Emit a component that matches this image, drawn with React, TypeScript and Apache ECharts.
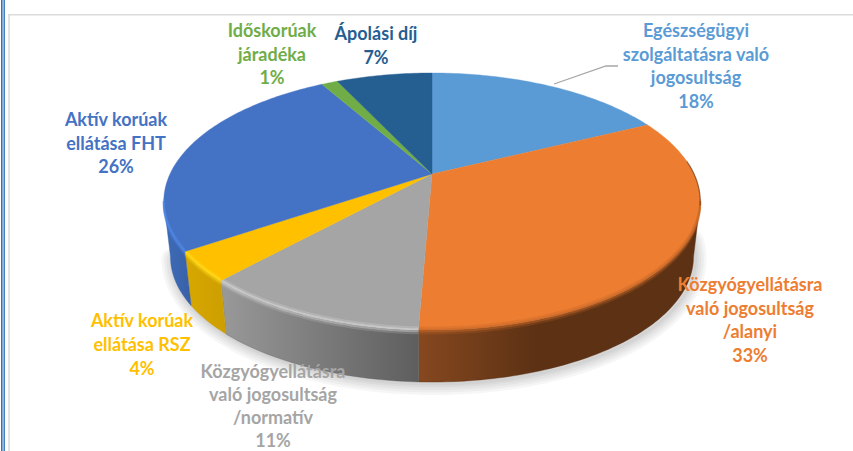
import React, { useEffect, useRef } from "react";
import * as echarts from "echarts";

// ---- data ----
const names = [
  "Egészségügyi\nszolgáltatásra való\njogosultság",
  "Közgyógyellátásra\nvaló jogosultság\n/alanyi",
  "Közgyógyellátásra\nvaló jogosultság\n/normatív",
  "Aktív korúak\nellátása RSZ",
  "Aktív korúak\nellátása FHT",
  "Időskorúak\njáradéka",
  "Ápolási díj",
];
const values = [17.8, 32.85, 11.25, 3.7, 26.1, 1.2, 7.1];

// ---- styling ----
const colors = ["#5B9BD5", "#ED7D31", "#A5A5A5", "#FFC000", "#4472C4", "#70AD47", "#255E91"];
const wallStops: string[][] = [
  ["#3f6f9c", "#3f6f9c"],
  ["#86481f", "#5c3114"],
  ["#999999", "#5e5e5e"],
  ["#d8a800", "#cc9e00"],
  ["#3f6cb8", "#3860a8"],
  ["#4f7a32", "#4f7a32"],
  ["#1b4468", "#1b4468"],
];
const rimColors = ["#7fb4e2", "#c96a2a", "#cfcfcf", "#ffd91a", "#4f86e2", "#8cc45f", "#3a78ad"];
const labelCentres: number[][] = [
  [696, 65.5],
  [750, 319.5],
  [273, 405],
  [142, 344],
  [116, 142.5],
  [272, 53.5],
  [376, 45],
];
const labelLineHeights = [23.7, 23.7, 23, 23.7, 23.7, 23.7, 23.7];

// ---- projection of the tilted pie ----
const CX = 432;
const CY = 174;
const BX = 262; // horizontal radius before perspective
const AY = 122.6; // vertical radius before perspective
const E = -0.214; // perspective strength
const WALL_DROP = 56;
const WALL_SCALE = 0.975;
const SIL_A = 102.4; // silhouette angles of the disc
const SIL_B = 257.6;

const rad = (d: number) => (d * Math.PI) / 180;
const topPt = (deg: number): number[] => {
  const X = Math.sin(rad(deg));
  const Y = -Math.cos(rad(deg));
  const w = 1 + E * Y;
  return [CX + (BX * X) / w, CY + (AY * Y) / w];
};
const botPt = (deg: number): number[] => {
  const p = topPt(deg);
  return [CX + (p[0] - CX) * WALL_SCALE, CY + (p[1] - CY) * WALL_SCALE + WALL_DROP];
};
const arc = (fn: (d: number) => number[], a: number, b: number): number[][] => {
  const pts: number[][] = [];
  const n = Math.max(2, Math.ceil(Math.abs(b - a)));
  for (let i = 0; i <= n; i++) pts.push(fn(a + ((b - a) * i) / n));
  return pts;
};
const total = values.reduce((s, v) => s + v, 0);
const range = (i: number): number[] => {
  let c = 0;
  for (let k = 0; k < i; k++) c += values[k];
  return [(c / total) * 360, ((c + values[i]) / total) * 360];
};
const shifted = (pts: number[][], dy: number) => pts.map((p) => [p[0], p[1] + dy]);

const wallItem = (params: any) => {
  const i = params.dataIndex;
  const [a0, b0] = range(i);
  const a = Math.max(a0, SIL_A);
  const b = Math.min(b0, SIL_B);
  if (b <= a) return { type: "group", children: [] };
  const points = [...arc(topPt, a, b), ...arc(botPt, b, a)];
  const fill = new echarts.graphic.LinearGradient(0, 0, 1, 0, [
    { offset: 0, color: wallStops[i][0] },
    { offset: i === 1 ? 0.42 : 1, color: wallStops[i][1] },
    { offset: 1, color: wallStops[i][1] },
  ]);
  return {
    type: "polygon",
    shape: { points },
    style: { fill, stroke: wallStops[i][1], lineWidth: 0.4 },
  };
};

const topItem = (params: any) => {
  const i = params.dataIndex;
  const [a, b] = range(i);
  const rimPts = a < SIL_B && b > SIL_A ? arc(topPt, Math.max(a, SIL_A), Math.min(b, SIL_B)) : [];
  const children: any[] = [
    {
      type: "polygon",
      shape: { points: [[CX, CY], ...arc(topPt, a, b)] },
      style: { fill: colors[i], stroke: colors[i], lineWidth: 0.4 },
    },
  ];
  if (rimPts.length) {
    const bands = [
      { dy: -2.5, o: 0.35, w: 2 },
      { dy: -0.5, o: 0.8, w: 2 },
      { dy: 1.5, o: 0.55, w: 2 },
      { dy: 3.5, o: 0.22, w: 2 },
    ];
    bands.forEach((t) =>
      children.push({
        type: "polyline",
        shape: { points: shifted(rimPts, t.dy) },
        style: { fill: "none", stroke: rimColors[i], lineWidth: t.w, opacity: t.o },
      })
    );
  }
  // dark shading on the right-hand upper edge
  if (i === 1) {
    children.push({
      type: "polyline",
      shape: { points: arc(topPt, 84, 104) },
      style: { fill: "none", stroke: "#5c3114", lineWidth: 1.2, opacity: 0.6 },
    });
  }
  const [lx, ly] = labelCentres[i];
  children.push({
    type: "text",
    x: lx,
    y: ly,
    z2: 10,
    style: {
      text: `${names[i]}\n${Math.round(values[i])}%`,
      fill: colors[i],
      font: "bold 18px Lato",
      align: "center",
      verticalAlign: "middle",
      lineHeight: labelLineHeights[i],
    },
  });
  return { type: "group", children };
};

// soft cast shadow: layered translucent strokes following the wall's lower edge
const shadowLayers = [22, 17, 12, 7, 3];
const shadowItem = () => ({
  type: "group",
  children: shadowLayers.map((w) => ({
    type: "polyline",
    shape: { points: arc(botPt, SIL_A - 8, SIL_B).map((p) => [p[0] + 2, p[1] + 2]) },
    style: { fill: "none", stroke: "#000000", lineWidth: w, opacity: 0.035, lineCap: "round" },
  })),
});

export default function App() {
  const ref = useRef<HTMLDivElement>(null);
  useEffect(() => {
    const chart = echarts.init(ref.current!, undefined, { renderer: "svg" });
    chart.setOption({
      animation: false,
      backgroundColor: "#ffffff",
      graphic: [
        { type: "line", shape: { x1: 1.8, y1: 0, x2: 1.8, y2: 451 }, style: { stroke: "#2e75b6", lineWidth: 1.6 } },
        { type: "line", shape: { x1: 4.2, y1: 0, x2: 4.2, y2: 451 }, style: { stroke: "#2e75b6", lineWidth: 1.4 } },
        { type: "line", shape: { x1: 9, y1: 14.5, x2: 9, y2: 451 }, style: { stroke: "#dcdcdc", lineWidth: 1.6 } },
        { type: "line", shape: { x1: 8, y1: 14.8, x2: 853, y2: 14.8 }, style: { stroke: "#dcdcdc", lineWidth: 1.6 } },
        {
          type: "polyline",
          z: 5,
          shape: { points: [[554, 84], [606, 66], [618, 66]] },
          style: { fill: "none", stroke: "#a6a6a6", lineWidth: 1.3 },
        },
      ],
      series: [
        { type: "custom", coordinateSystem: "none", data: [1], renderItem: shadowItem, silent: true, z: 1 },
        { type: "custom", coordinateSystem: "none", data: values, renderItem: wallItem, silent: true, z: 2 },
        { type: "custom", coordinateSystem: "none", data: values, renderItem: topItem, silent: true, z: 3 },
      ],
    });
    return () => chart.dispose();
  }, []);
  return <div ref={ref} style={{ position: "absolute", left: 0, top: 0, width: 853, height: 451 }} />;
}
